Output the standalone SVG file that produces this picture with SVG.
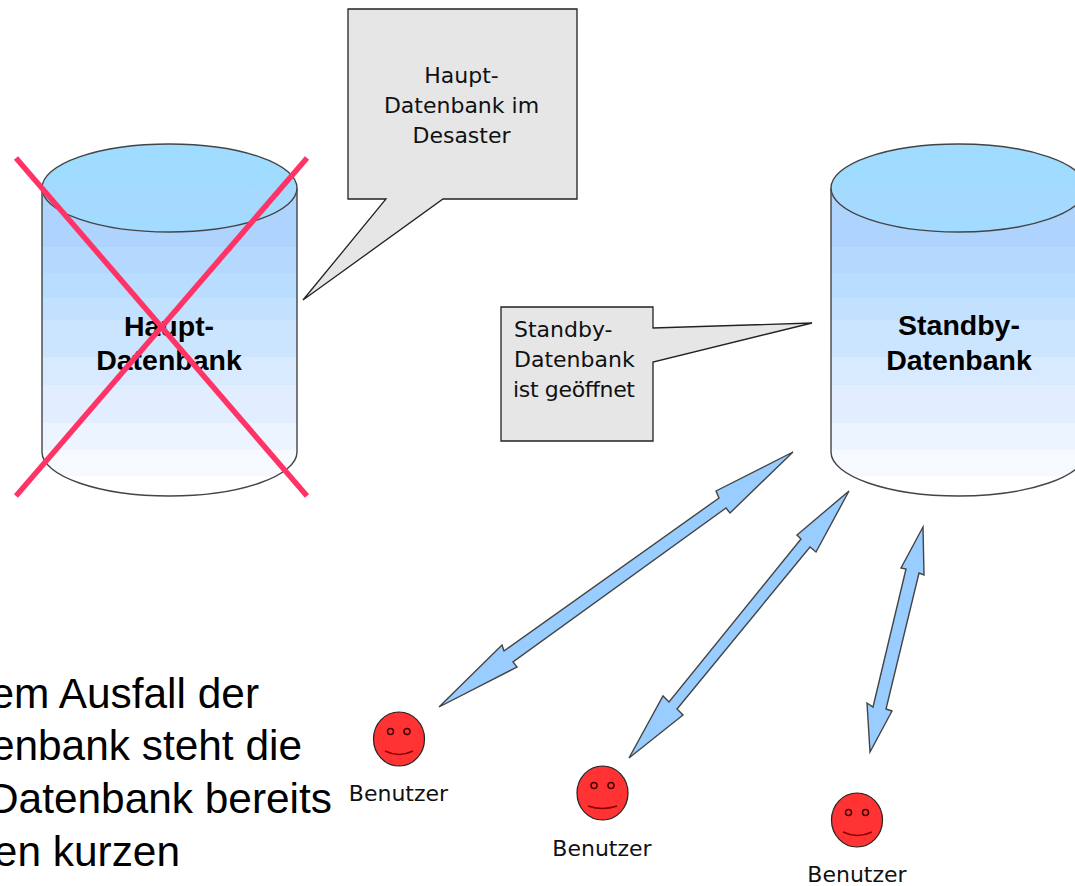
<svg xmlns="http://www.w3.org/2000/svg" width="1075" height="886" viewBox="0 0 1075 886">
<style>
.vera{font-family:"DejaVu Sans",sans-serif;font-size:22px;fill:#111}
.bold{font-family:"Liberation Sans",Arial,sans-serif;font-size:28.5px;font-weight:bold;fill:#000;text-anchor:middle}
.mid{text-anchor:middle}
.big{font-family:"Liberation Sans",Arial,sans-serif;font-size:42.4px;fill:#000;text-anchor:end}
.body{fill:url(#bodyFill);stroke:#444;stroke-width:1.4}
.lid{fill:url(#lidFill);stroke:#444;stroke-width:1.4}
.note{fill:#e6e6e6;stroke:#222;stroke-width:1.3;stroke-linejoin:miter}
.arrow{fill:#99ccff;stroke:#444;stroke-width:1.4;stroke-linejoin:miter}
.cross{stroke:#ff3366;stroke-width:5.5;fill:none}
.head{fill:#ff3333;stroke:#222;stroke-width:1.2}
.eye{fill:#ff3333;stroke:#400;stroke-width:1.5}
.smile{fill:none;stroke:#800;stroke-width:1.5}
</style>
<defs>
<linearGradient id="bodyFill" gradientUnits="userSpaceOnUse" x1="0" y1="144" x2="0" y2="496">
<stop offset="0" stop-color="#aed4fd"/><stop offset=".2926" stop-color="#aed4fd"/>
<stop offset=".2926" stop-color="#b5d9fe"/><stop offset=".3665" stop-color="#b5d9fe"/>
<stop offset=".3665" stop-color="#b9ddff"/><stop offset=".4375" stop-color="#b9ddff"/>
<stop offset=".4375" stop-color="#c1e1ff"/><stop offset=".5" stop-color="#c1e1ff"/>
<stop offset=".5" stop-color="#cbe5ff"/><stop offset=".605" stop-color="#cbe5ff"/>
<stop offset=".605" stop-color="#d8eaff"/><stop offset=".685" stop-color="#d8eaff"/>
<stop offset=".685" stop-color="#e2eeff"/><stop offset=".793" stop-color="#e2eeff"/>
<stop offset=".793" stop-color="#ecf4ff"/><stop offset=".869" stop-color="#ecf4ff"/>
<stop offset=".869" stop-color="#f6faff"/><stop offset=".943" stop-color="#f6faff"/>
<stop offset=".943" stop-color="#ffffff"/><stop offset="1" stop-color="#ffffff"/>
</linearGradient>
<linearGradient id="lidFill" gradientUnits="userSpaceOnUse" x1="0" y1="144" x2="0" y2="232">
<stop offset="0" stop-color="#9fdcff"/><stop offset=".5" stop-color="#a0dbff"/>
<stop offset=".5" stop-color="#a6d9fe"/><stop offset=".8" stop-color="#a6d9fe"/>
<stop offset=".8" stop-color="#a2dbff"/><stop offset="1" stop-color="#a2dbff"/>
</linearGradient>
</defs>

<g id="haupt-datenbank">
<path class="body" d="M42 188V452C42 476 99 496 169.500 496S297 476 297 452V188"/>
<ellipse class="lid" cx="169.500" cy="188" rx="127.500" ry="44"/>
<text class="bold" x="169" y="336">Haupt-</text>
<text class="bold" x="169" y="370">Datenbank</text>
</g>
<g id="ausfall-kreuz">
<line class="cross" x1="16" y1="158" x2="307" y2="496"/>
<line class="cross" x1="307" y1="158" x2="16" y2="496"/>
</g>

<g id="standby-datenbank">
<path class="body" d="M831 188V452C831 476 888 496 958.500 496S1086 476 1086 452V188"/>
<ellipse class="lid" cx="958.500" cy="188" rx="127.500" ry="44"/>
<text class="bold" x="959" y="335">Standby-</text>
<text class="bold" x="959" y="370">Datenbank</text>
</g>

<g id="hinweis-desaster">
<path class="note" d="M348 9H577V199H443L303 300L386 199H348Z"/>
<text class="vera mid" x="461.500" y="83">Haupt-</text>
<text class="vera mid" x="461.500" y="113">Datenbank im</text>
<text class="vera mid" x="461.500" y="143">Desaster</text>
</g>

<g id="hinweis-standby">
<path class="note" d="M501 307H653V328L812 323L653 362V441H501Z"/>
<text class="vera" x="514" y="337">Standby-</text>
<text class="vera" x="514" y="367">Datenbank</text>
<text class="vera" x="513" y="397" textLength="122">ist geöffnet</text>
</g>

<g id="connectors">
<path class="arrow" d="M793 452L716 491L719 498L504 651L502 645L439 707L517 667L513 662L726 508L730 513Z"/>
<path class="arrow" d="M849 491L797 535L801 539L669 702L663 696L629 758L683 715L677 709L810 547L816 552Z"/>
<path class="arrow" d="M923 527L901 568L906 569L873 707L867 703L870 752L892 711L886 709L919 573L924 575Z"/>
</g>

<g id="benutzer-1">
<ellipse class="head" cx="399" cy="739" rx="25.500" ry="27"/>
<circle class="eye" cx="390.500" cy="731.500" r="3"/><circle class="eye" cx="407" cy="731.500" r="3"/>
<path class="smile" d="M385 751Q399 758 413 751"/>
<text class="vera mid" x="398.500" y="801">Benutzer</text>
</g>
<g id="benutzer-2">
<ellipse class="head" cx="602.500" cy="793" rx="25.500" ry="27"/>
<circle class="eye" cx="594" cy="785.500" r="3"/><circle class="eye" cx="611" cy="785.500" r="3"/>
<path class="smile" d="M588 806Q602 811 617 806"/>
<text class="vera mid" x="602" y="856">Benutzer</text>
</g>
<g id="benutzer-3">
<ellipse class="head" cx="857" cy="820" rx="25.500" ry="27"/>
<circle class="eye" cx="848.500" cy="812.500" r="3"/><circle class="eye" cx="865.500" cy="812.500" r="3"/>
<path class="smile" d="M843 832Q857 839 872 832"/>
<text class="vera mid" x="857" y="882">Benutzer</text>
</g>

<g id="fliesstext">
<text class="big" x="259" y="708">em Ausfall der</text>
<text class="big" x="302" y="760">enbank steht die</text>
<text class="big" x="332" y="813">Datenbank bereits</text>
<text class="big" x="180" y="866">en kurzen</text>
</g>
</svg>
